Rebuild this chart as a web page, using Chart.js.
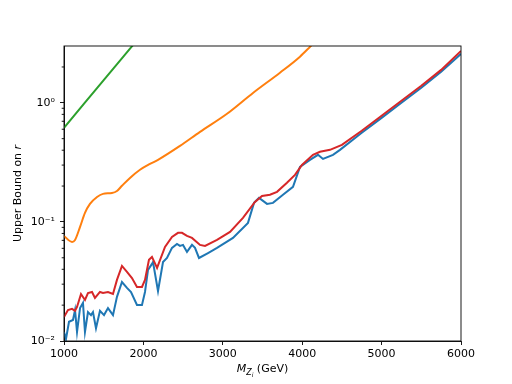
<!DOCTYPE html>
<html>
<head>
<meta charset="utf-8">
<script src="https://cdn.jsdelivr.net/npm/chart.js@4/dist/chart.umd.min.js"></script>
<style>
  html, body { margin: 0; padding: 0; background: #fff; }
  #wrap { width: 512px; height: 384px; }
</style>
</head>
<body>
<div id="wrap"><canvas id="myChart" width="512" height="384"></canvas></div>
<script>
// values
let blueX = [1000,1025,1063,1113,1139,1164,1202,1239,1264,1302,1340,1365,1403,1453,1504,1554,1617,1667,1730,1793,1844,1919,1982,2020,2058,2108,2121,2184,2247,2297,2360,2423,2461,2499,2549,2612,2650,2700,2814,2927,3128,3317,3393,3456,3557,3632,3758,3884,3972,4098,4199,4262,4388,4476,4750,5000,5250,5500,5750,6000];
let blueY = [0.0119,0.0104,0.0145,0.015,0.0182,0.0119,0.0189,0.0209,0.0119,0.0175,0.0165,0.0175,0.0128,0.0179,0.0165,0.0189,0.0165,0.0235,0.0313,0.0279,0.0258,0.0201,0.0201,0.0258,0.0396,0.0444,0.0461,0.0263,0.0461,0.0498,0.0605,0.0654,0.0629,0.0641,0.056,0.0641,0.0605,0.0498,0.0548,0.0605,0.0734,0.0982,0.1445,0.159,0.1416,0.1445,0.169,0.197,0.29,0.332,0.366,0.338,0.366,0.403,0.56,0.748,1.0,1.34,1.82,2.58];

let redX = [1000,1050,1101,1139,1164,1214,1264,1302,1353,1390,1453,1491,1554,1617,1667,1730,1793,1856,1919,1982,2020,2070,2108,2172,2272,2360,2436,2486,2549,2612,2713,2776,2927,3091,3254,3405,3494,3594,3683,3808,3909,3997,4136,4224,4350,4500,4750,5000,5250,5500,5750,6000];
let redY = [0.0159,0.0182,0.0186,0.0179,0.0193,0.0248,0.0221,0.0253,0.0258,0.0230,0.0258,0.0253,0.0258,0.0248,0.0326,0.0427,0.0380,0.0338,0.0284,0.0284,0.0326,0.048,0.0508,0.0411,0.0617,0.0748,0.0809,0.0809,0.0763,0.0734,0.0641,0.0629,0.0706,0.0824,0.108,0.147,0.165,0.169,0.179,0.213,0.248,0.301,0.366,0.388,0.403,0.444,0.582,0.778,1.04,1.39,1.89,2.73];

let orangeX = [1000,1101,1139,1202,1264,1327,1416,1491,1604,1667,1730,1831,1957,2083,2184,2461,2713,3053,3380,3720,3972,4111,4250];
let orangeY = [0.0762,0.0679,0.0706,0.0908,0.119,0.1416,0.162,0.172,0.175,0.182,0.201,0.234,0.274,0.307,0.332,0.435,0.570,0.809,1.21,1.79,2.44,3.01,3.7];

let greenX = [1000,1250,1500,1750,2000];
let greenY = [0.616,0.98,1.55,2.45,3.9];

let xTicks = [1000,2000,3000,4000,5000,6000];
let yMajor = [0.01,0.1,1];
let yTickLabels = ['10\u207B\u00B2','10\u207B\u00B9','10\u2070'];
let yMinor = [0.02,0.03,0.04,0.05,0.06,0.07,0.08,0.09,0.2,0.3,0.4,0.5,0.6,0.7,0.8,0.9,2];

function pts(xs, ys) {
    return xs.map((x, i) => ({x: x, y: ys[i]}));
}

const FONT = '"DejaVu Sans", sans-serif';

// frame, minor ticks and axis titles (matplotlib look)
const decor = {
    id: 'decor',
    afterDraw(chart) {
        const ctx = chart.ctx;
        const a = chart.chartArea;
        const y = chart.scales.y;
        ctx.save();
        ctx.strokeStyle = '#000';
        ctx.lineWidth = 0.9;
        ctx.strokeRect(a.left, a.top, a.right - a.left, a.bottom - a.top);
        yMinor.forEach((v) => {
            let py = y.getPixelForValue(v);
            ctx.beginPath();
            ctx.moveTo(a.left, py);
            ctx.lineTo(a.left - 2.3, py);
            ctx.stroke();
        });

        ctx.fillStyle = '#000';
        ctx.textBaseline = 'alphabetic';
        ctx.textAlign = 'left';
        // x title: M_{Z_i} (GeV)
        let parts = [
            {t: 'M', f: 'italic 11px ' + FONT, dy: 0},
            {t: 'Z', f: 'italic 8px ' + FONT, dy: 2.5},
            {t: 'i', f: 'italic 6px ' + FONT, dy: 4.5},
            {t: ' (GeV)', f: '11px ' + FONT, dy: 0}
        ];
        let total = 0;
        parts.forEach((p) => { ctx.font = p.f; p.w = ctx.measureText(p.t).width; total += p.w; });
        let cx = (a.left + a.right) / 2 - total / 2;
        let base = 372;
        parts.forEach((p) => { ctx.font = p.f; ctx.fillText(p.t, cx, base + p.dy); cx += p.w; });

        // y title: Upper Bound on r
        ctx.translate(21, (a.top + a.bottom) / 2);
        ctx.rotate(-Math.PI / 2);
        ctx.font = '11px ' + FONT;
        let s1 = 'Upper Bound on ';
        let w1 = ctx.measureText(s1).width;
        ctx.font = 'italic 11px ' + FONT;
        let w2 = ctx.measureText('r').width;
        let sx = -(w1 + w2) / 2;
        ctx.font = '11px ' + FONT;
        ctx.fillText(s1, sx, 0);
        ctx.font = 'italic 11px ' + FONT;
        ctx.fillText('r', sx + w1, 0);
        ctx.restore();
    }
};

let ctx = document.getElementById('myChart').getContext('2d');
let myChart = new Chart(ctx, {
    type: 'line',
    data: {
        datasets: [
            { data: pts(blueX, blueY), borderColor: '#1f77b4', order: 4 },
            { data: pts(orangeX, orangeY), borderColor: '#ff7f0e', order: 3, cubicInterpolationMode: 'monotone' },
            { data: pts(greenX, greenY), borderColor: '#2ca02c', order: 2 },
            { data: pts(redX, redY), borderColor: '#d62728', order: 1 }
        ]
    },
    options: {
        responsive: false,
        animation: false,
        layout: { padding: { top: 46, right: 51, left: 0, bottom: 0 } },
        elements: {
            line: { borderWidth: 2, tension: 0, fill: false },
            point: { radius: 0 }
        },
        plugins: { legend: { display: false }, tooltip: { enabled: false } },
        scales: {
            x: {
                type: 'linear',
                min: 1000,
                max: 6000,
                afterBuildTicks: (scale) => { scale.ticks = xTicks.map((v) => ({value: v})); },
                afterFit: (scale) => { scale.height = 43; },
                grid: { drawOnChartArea: false, tickLength: 4, color: '#000', lineWidth: 0.9 },
                border: { color: '#000', width: 0.9 },
                ticks: { color: '#000', font: { family: FONT, size: 11 }, padding: 3, maxRotation: 0,
                         callback: (v) => String(v) }
            },
            y: {
                type: 'logarithmic',
                min: 0.01,
                max: 3.0,
                afterBuildTicks: (scale) => { scale.ticks = yMajor.map((v) => ({value: v})); },
                afterFit: (scale) => { scale.width = 64; },
                grid: { drawOnChartArea: false, tickLength: 4, color: '#000', lineWidth: 0.9 },
                border: { color: '#000', width: 0.9 },
                ticks: { color: '#000', font: { family: FONT, size: 11 }, padding: 5,
                         callback: (v) => { let i = yMajor.indexOf(v); return i >= 0 ? yTickLabels[i] : ''; } }
            }
        }
    },
    plugins: [decor]
});
</script>
</body>
</html>
